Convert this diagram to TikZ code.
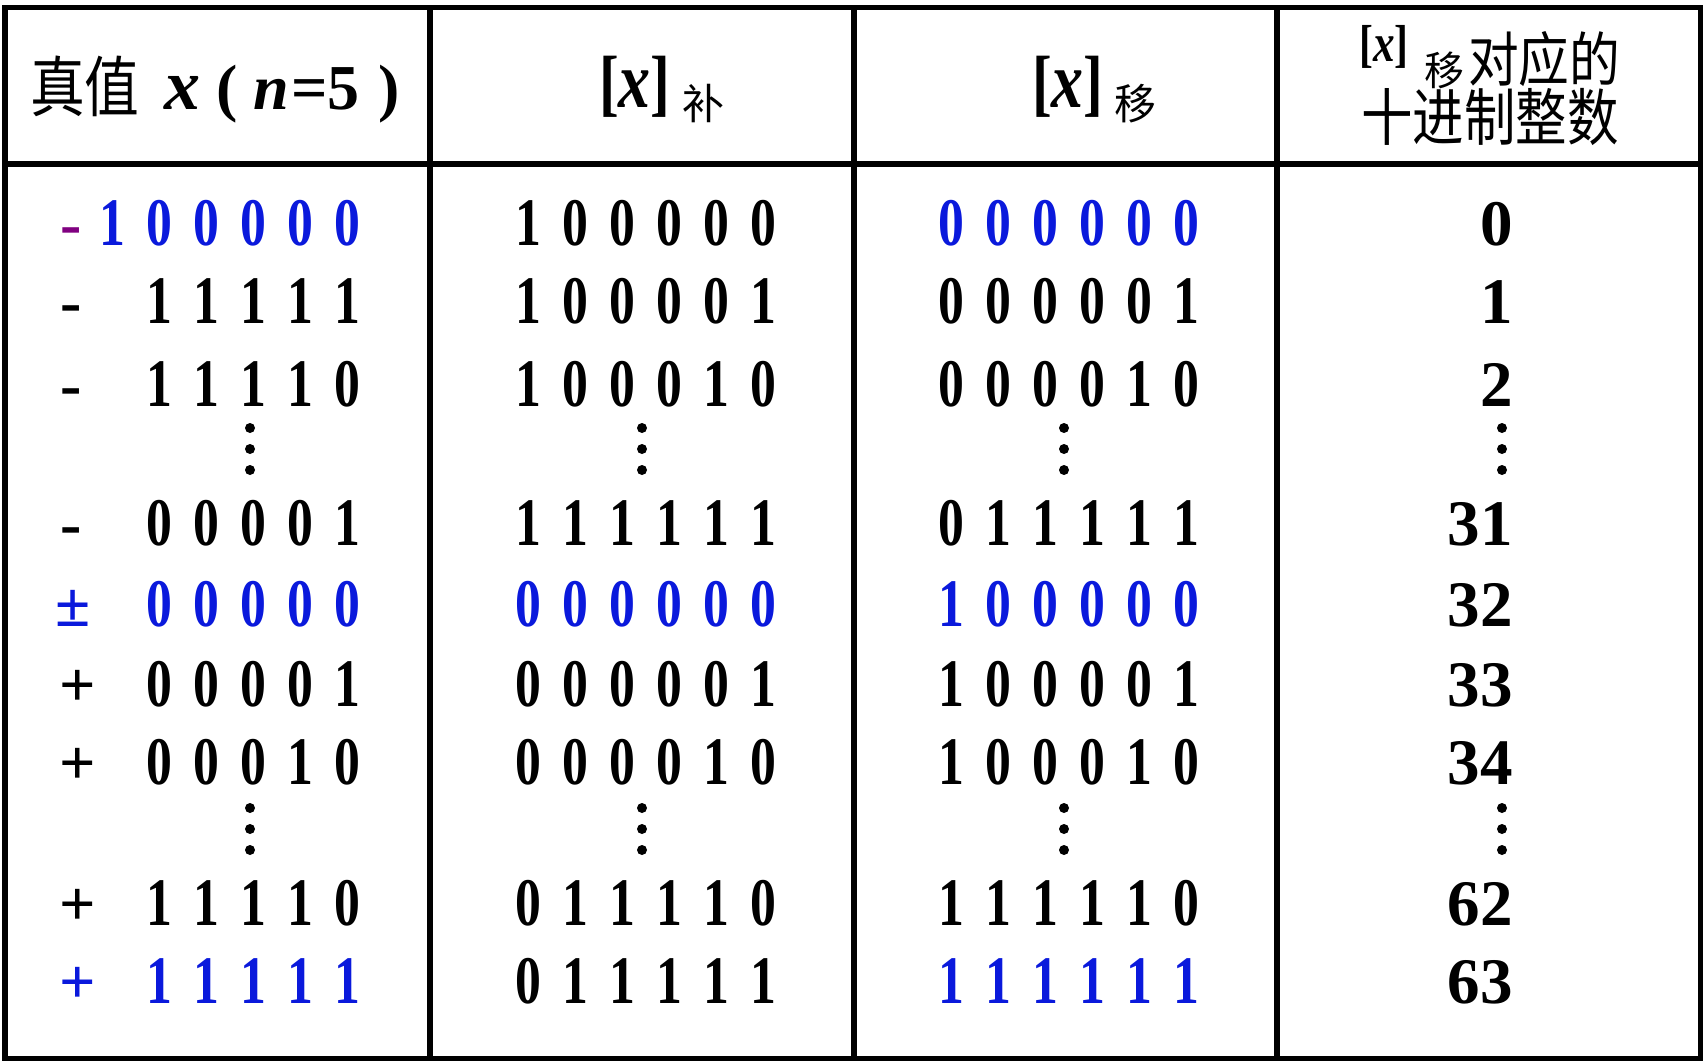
\documentclass[tikz,border=0pt]{standalone}
\usepackage{fontspec}
\usepackage{graphicx}
\setmainfont{Liberation Serif}
\newfontfamily\cjk{Noto Sans CJK SC}
\newfontfamily\cjkn{Noto Sans CJK SC}[FakeStretch=0.83]
\newfontfamily\cjkm{Noto Sans CJK SC}[FakeStretch=0.86]
\newfontfamily\bitfont{Liberation Serif}[FakeStretch=0.8]
\newfontfamily\digfont{Liberation Serif}[FakeStretch=0.76]
\definecolor{bblue}{RGB}{10,25,220}
\definecolor{bpurple}{RGB}{128,0,128}
\newlength\bitpitch \setlength\bitpitch{47pt}
\makeatletter
\newcommand\bits[1]{\bits@aux#1\relax}
\def\bits@aux#1{\ifx#1\relax\else\makebox[\bitpitch]{#1}\expandafter\bits@aux\fi}
\newcommand\xbits[1]{\expandafter\bits\expandafter{#1}}
\makeatother
\tikzset{
  frame/.style={line width=5.5pt},
  bitrow/.style={inner sep=0pt, font=\digfont\bfseries\fontsize{68}{70}\selectfont},
  numtxt/.style={inner sep=0pt, anchor=base east, font=\bfseries\fontsize{65}{70}\selectfont},
  sgn/.style={inner sep=0pt, anchor=base, font=\bfseries\fontsize{64}{70}\selectfont},
  dotc/.style={circle, fill=black, inner sep=0pt, minimum size=10pt},
  hd/.style={inner sep=0pt, anchor=base west},
}
\begin{document}
\begin{tikzpicture}[x=1pt,y=-1pt]
\useasboundingbox (0,0) rectangle (1706,1062);
\fill[white] (0,0) rectangle (1706,1062);
% table lines
\draw[frame] (5,7.5) rectangle (1700.5,1058.5);
\draw[frame] (5,164) -- (1700.5,164);
\foreach \cx in {430,854,1277} \draw[frame] (\cx,7.5) -- (\cx,1058.5);
% header column 1
\node[hd, font=\cjkn\fontsize{66}{70}\selectfont] (h1a) at (30,112) {真值};
\node[hd, font=\bfseries\itshape\fontsize{72}{76}\selectfont] (h1b) at (164,110) {x};
\node[hd, font=\bfseries\fontsize{64}{70}\selectfont] (h1c) at (216,110) {(};
\node[hd, font=\bfseries\itshape\fontsize{64}{70}\selectfont] (h1d) at (253,110) {n};
\node[hd, font=\bfseries\fontsize{64}{70}\selectfont] (h1e) at (291,110) {=5};
\node[hd, font=\bfseries\fontsize{64}{70}\selectfont] (h1f) at (378,110) {)};
% header column 2
\node[hd, font=\bitfont\bfseries\fontsize{74}{74}\selectfont] (h2a) at (599,108) {[{\fontsize{80}{80}\selectfont\itshape x}]};
\node[hd, font=\cjk\fontsize{42}{42}\selectfont] (h2b) at (682,120) {补};
% header column 3
\node[hd, font=\bitfont\bfseries\fontsize{74}{74}\selectfont] (h3a) at (1032,108) {[{\fontsize{80}{80}\selectfont\itshape x}]};
\node[hd, font=\cjk\fontsize{42}{42}\selectfont] (h3b) at (1114,120) {移};
% header column 4
\node[hd, font=\bitfont\bfseries\fontsize{52}{52}\selectfont, text height=36pt, text depth=6pt] (h4a) at (1359,62) {[{\fontsize{54}{54}\selectfont\itshape x}]};
\node[hd, font=\cjk\fontsize{40}{40}\selectfont, text height=32pt, text depth=3pt] (h4b) at (1424,86) {移};
\node[hd, font=\cjkm\fontsize{59}{60}\selectfont, text height=48pt, text depth=3pt] (h4c) at (1468,82) {对应的};
\node[hd, font=\cjkn\fontsize{62}{62}\selectfont, text height=50pt, text depth=4pt] (h4d) at (1361,141) {十进制整数};
% rows
\foreach \i/\yb/\sx/\s/\sc/\a/\ac/\b/\bc/\c/\cc/\d in {
  1/245/71/-/bpurple/100000/bblue/100000/black/000000/bblue/0,
  2/323/71/-/black/11111/black/100001/black/000001/black/1,
  3/406/71/-/black/11110/black/100010/black/000010/black/2,
  4/545/71/-/black/00001/black/111111/black/011111/black/31,
  5/626/73/±/bblue/00000/bblue/000000/bblue/100000/bblue/32,
  6/706/78/+/black/00001/black/000001/black/100001/black/33,
  7/784/78/+/black/00010/black/000010/black/100010/black/34,
  8/925/78/+/black/11110/black/011110/black/111110/black/62,
  9/1003/78/+/bblue/11111/bblue/011111/black/111111/bblue/63}
{
  \node[sgn, text=\sc] (s\i) at (\sx,\yb) {\s};
  \node[bitrow, anchor=base east, text=\ac] (a\i) at (371,\yb) {\xbits{\a}};
  \node[bitrow, anchor=base, text=\bc] (b\i) at (646,\yb) {\xbits{\b}};
  \node[bitrow, anchor=base, text=\cc] (c\i) at (1069,\yb) {\xbits{\c}};
  \node[numtxt] (n\i) at (1513,\yb) {\d};
}
% vertical ellipses
\foreach \dx [count=\k] in {250,642,1064,1502}
  \foreach \dy [count=\m] in {428,449,470,808,829,850}
    \node[dotc] (d\k-\m) at (\dx,\dy) {};
\end{tikzpicture}
\end{document}
